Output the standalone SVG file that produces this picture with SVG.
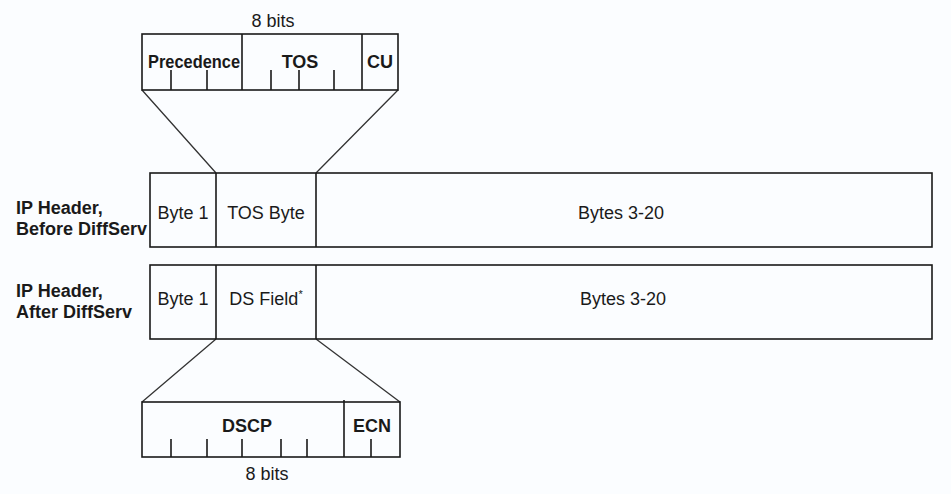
<svg xmlns="http://www.w3.org/2000/svg" width="951" height="494" viewBox="0 0 951 494">
<style>
.bx{fill:none;stroke:#1a1a1a;stroke-width:1.6}
.ln{stroke:#1a1a1a;stroke-width:1.6;fill:none}
.ct{stroke:#333;stroke-width:1.3;fill:none}
.t{font-family:"Liberation Sans",Arial,sans-serif;font-size:18px;fill:#1a1a1a;text-anchor:middle}
.b{font-family:"Liberation Sans",Arial,sans-serif;font-size:18px;font-weight:bold;fill:#1a1a1a}
.bc{font-family:"Liberation Sans",Arial,sans-serif;font-size:18px;font-weight:bold;fill:#1a1a1a;text-anchor:middle}
</style>
<rect width="951" height="494" fill="#fbfdff"/>
<g id="connectors">
<path class="ct" d="M142,90 L216,173 M398,90 L316,173"/>
<path class="ct" d="M216,339 L142,402 M316,339 L400,402"/>
</g>
<g id="tos-bits">
<text class="t" x="273" y="27">8 bits</text>
<rect class="bx" x="142" y="34" width="256" height="56"/>
<path class="ln" d="M242,34 V90 M362,34 V90 M171,70 V90 M207,70 V90 M271,70 V90 M299,70 V90 M334,70 V90"/>
<text class="b" x="148" y="68" textLength="92" lengthAdjust="spacingAndGlyphs">Precedence</text>
<text class="bc" x="300" y="68">TOS</text>
<text class="bc" x="380" y="68">CU</text>
</g>
<g id="label-before">
<text class="b" x="16" y="214">IP Header,</text>
<text class="b" x="16" y="235">Before DiffServ</text>
</g>
<g id="header-before">
<rect class="bx" x="150" y="173" width="782" height="74"/>
<path class="ln" d="M216,173 V247 M316,173 V247"/>
<text class="t" x="183" y="219">Byte 1</text>
<text class="t" x="266" y="219">TOS Byte</text>
<text class="t" x="621" y="219">Bytes 3-20</text>
</g>
<g id="label-after">
<text class="b" x="16" y="297">IP Header,</text>
<text class="b" x="16" y="318">After DiffServ</text>
</g>
<g id="header-after">
<rect class="bx" x="150" y="265" width="782" height="74"/>
<path class="ln" d="M216,265 V339 M316,265 V339"/>
<text class="t" x="183" y="305">Byte 1</text>
<text class="t" x="266" y="305">DS Field<tspan font-size="11" dy="-7">*</tspan></text>
<text class="t" x="623" y="305">Bytes 3-20</text>
</g>
<g id="ds-bits">
<rect class="bx" x="142" y="402" width="258" height="55"/>
<path class="ln" d="M344,400 V457 M171,439 V457 M207,439 V457 M242,439 V457 M281,439 V457 M307,439 V457 M371,439 V457"/>
<text class="bc" x="247" y="432">DSCP</text>
<text class="bc" x="372" y="432">ECN</text>
<text class="t" x="267" y="480">8 bits</text>
</g>
</svg>
